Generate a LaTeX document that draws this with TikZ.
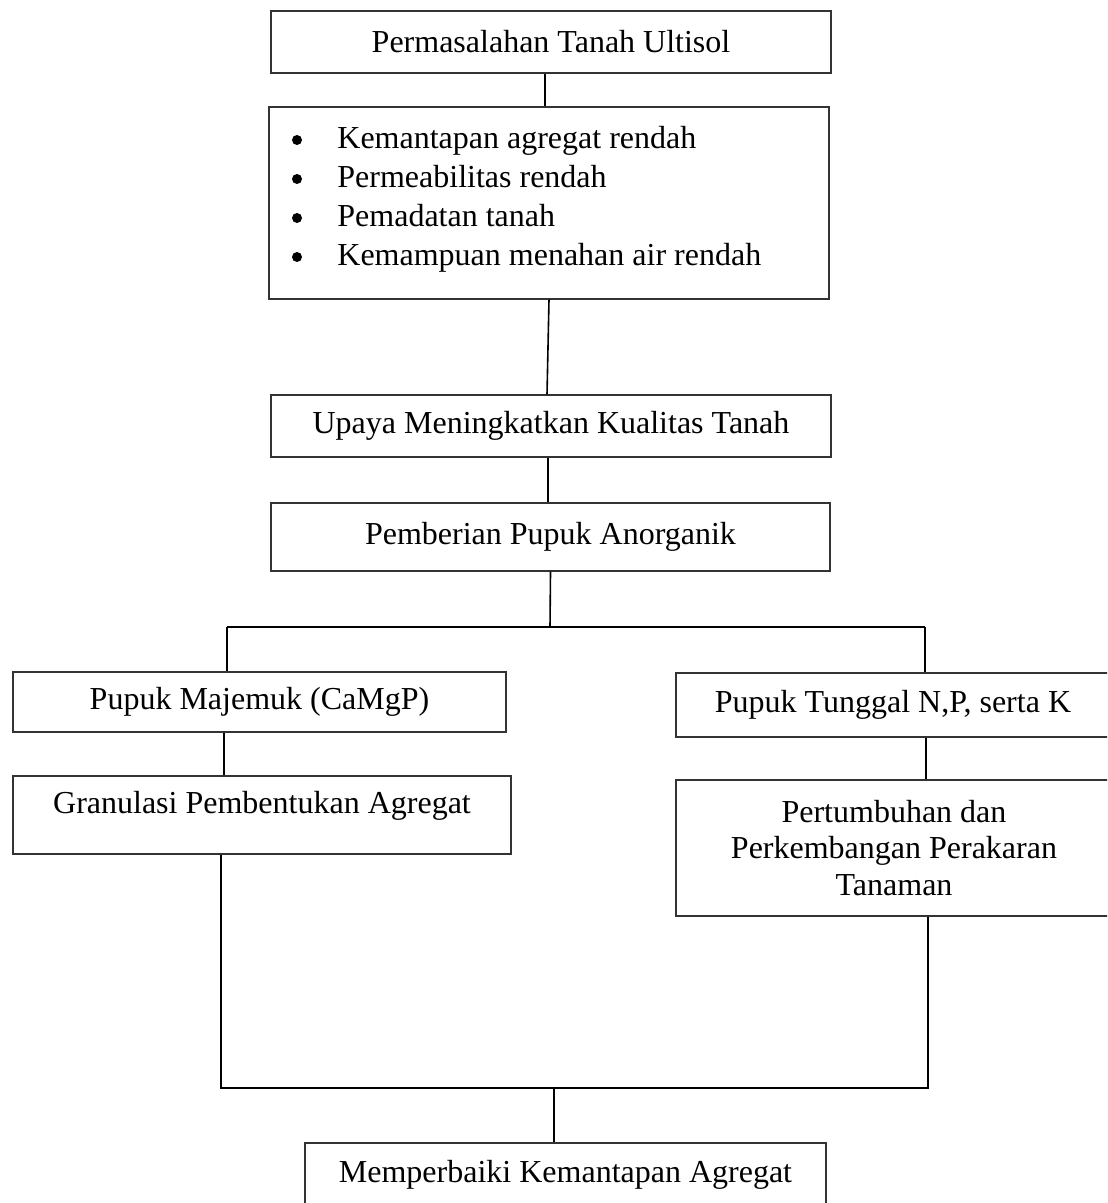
\documentclass[tikz,border=0pt]{standalone}
\usepackage{fontspec}
\setmainfont{Liberation Serif}
\usetikzlibrary{calc}

\tikzset{
  kotak/.style={draw=black!80, line width=0.55pt, inner sep=0pt, align=center,
    font=\fontsize{16}{18.4}\selectfont},
  garis/.style={line width=0.8pt}
}

\begin{document}
\begin{tikzpicture}[x=0.5pt, y=-0.5pt]
  \useasboundingbox (0,0) rectangle (1107,1203);
  \clip (0,0) rectangle (1107,1203);

  % masalah tanah
  \node[kotak, minimum width=280pt, minimum height=31pt] (masalah) at (551,42) {Permasalahan Tanah Ultisol};
  \node[kotak, minimum width=280pt, minimum height=96pt] (ciri) at (549,203) {};
  \node[anchor=west, inner sep=0pt, align=left, font=\fontsize{16}{19.5}\selectfont] (daftar) at (337,199) {%
    Kemantapan agregat rendah\\
    Permeabilitas rendah\\
    Pemadatan tanah\\
    Kemampuan menahan air rendah};
  \foreach \yb in {140,179,218,257}
    \fill (297,\yb) circle (2.5pt);

  % upaya
  \node[kotak, minimum width=280pt, minimum height=31pt] (upaya) at (551,426) {Upaya Meningkatkan Kualitas Tanah};
  \node[kotak, minimum width=279.5pt, minimum height=34pt] (pupuk) at (550.5,537) {Pemberian Pupuk Anorganik};

  % dua cabang pupuk
  \node[kotak, minimum width=246.5pt, minimum height=30pt] (majemuk) at (259.5,702) {Pupuk Majemuk (CaMgP)};
  \node[kotak, minimum width=217pt, minimum height=32pt] (tunggal) at (893,705) {Pupuk Tunggal N,P, serta K};
  \node[kotak, minimum width=249pt, minimum height=39pt, text height=11pt, text depth=13pt] (granulasi) at (262,815) {Granulasi Pembentukan Agregat};
  \node[kotak, minimum width=218pt, minimum height=68pt] (akar) at (894,848) {Pertumbuhan dan\\Perkembangan Perakaran\\Tanaman};

  % hasil akhir
  \node[kotak, minimum width=260.5pt, minimum height=32pt] (hasil) at (565.5,1175) {Memperbaiki Kemantapan Agregat};

  \coordinate (cabangL) at (227,627);
  \coordinate (cabang) at (550,627);
  \coordinate (cabangR) at (925,627);
  \coordinate (gabungL) at (221,1088);
  \coordinate (gabung) at (554,1088);
  \coordinate (gabungR) at (928,1088);

  % garis penghubung
  \draw[garis] ($(masalah.south)+(-6,0)$) -- ($(ciri.north)+(-4,0)$);
  \draw[garis] (ciri.south) -- ($(upaya.north)+(-4,0)$);
  \draw[garis] ($(upaya.south)+(-3,0)$) -- ($(pupuk.north)+(-2.5,0)$);
  \draw[garis] (pupuk.south) -- (cabang);
  \draw[garis] (cabangL) -- (cabangR);
  \draw[garis] (cabangL) -- (majemuk.north -| cabangL);
  \draw[garis] (cabangR) -- (tunggal.north -| cabangR);
  \draw[garis] ($(majemuk.south)+(-35.5,0)$) -- ($(granulasi.north)+(-38,0)$);
  \draw[garis] ($(tunggal.south)+(33,0)$) -- ($(akar.north)+(32,0)$);
  \draw[garis] (granulasi.south -| gabungL) -- (gabungL) -- (gabungR) -- (akar.south -| gabungR);
  \draw[garis] (gabung) -- (hasil.north -| gabung);
\end{tikzpicture}
\end{document}
